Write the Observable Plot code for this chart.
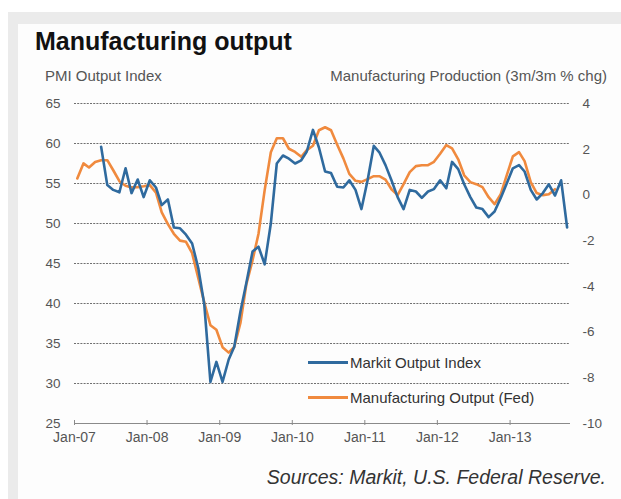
<!DOCTYPE html>
<html><head><meta charset="utf-8">
<script src="https://cdn.jsdelivr.net/npm/d3@7"></script>
<script src="https://cdn.jsdelivr.net/npm/@observablehq/plot@0.6"></script>
<style>
html,body{margin:0;padding:0;background:#fff;width:621px;height:499px;overflow:hidden;font-family:"Liberation Sans",Arial,sans-serif;}
#outer{position:absolute;left:8px;top:12px;width:640px;height:500px;background:#ebebeb;}
#inner{position:absolute;left:18px;top:24px;width:620px;height:480px;background:#fdfdfd;}
#chart{position:absolute;left:0;top:0;}
.t{position:absolute;white-space:nowrap;}
.sw{position:absolute;height:3px;width:40px;}
</style></head><body>
<div id="outer"></div><div id="inner"></div>
<div id="chart"></div>
<div class="t" style="left:35px;top:27px;font-size:25px;font-weight:bold;color:#111;">Manufacturing output</div>
<div class="t" id="ylabL" style="left:45px;top:67px;font-size:15px;color:#555;"></div>
<div class="t" id="ylabR" style="right:14px;top:67px;font-size:15px;color:#555;"></div>
<div class="sw" id="sw0" style="left:308px;top:361px;"></div>
<div class="t" id="lg0" style="left:350px;top:354px;font-size:15px;color:#333;"></div>
<div class="sw" id="sw1" style="left:308px;top:396px;"></div>
<div class="t" id="lg1" style="left:350px;top:389px;font-size:15px;color:#333;"></div>
<div class="t" style="right:15px;top:466px;font-size:19.5px;font-style:italic;color:#333;">Sources: Markit, U.S. Federal Reserve.</div>
<script>
// ---- data ----
const seriesNames = ["Markit Output Index", "Manufacturing Output (Fed)"];
const seriesColors = ["#2f6a9e", "#f08a3e"];
const leftTitle = "PMI Output Index";
const rightTitle = "Manufacturing Production (3m/3m % chg)";
const xTickLabels = ["Jan-07","Jan-08","Jan-09","Jan-10","Jan-11","Jan-12","Jan-13"];
const leftTicks = [25,30,35,40,45,50,55,60,65];
const rightTicks = [4,2,0,-2,-4,-6,-8,-10];

const markitStart = "2007-05";
const markit = [59.6,54.8,54.2,53.9,56.9,53.8,55.5,53.3,55.4,54.5,52.3,53.0,49.5,49.4,48.6,47.5,44.4,39.9,30.2,32.7,
  30.2,33.0,34.6,39.0,42.6,46.5,47.1,44.9,50.0,57.5,58.5,58.1,57.5,57.9,59.0,61.7,59.5,56.5,56.3,54.6,
  54.5,55.4,54.2,51.8,55.4,59.7,58.9,57.3,55.4,53.3,51.8,54.2,54.0,53.2,54.0,54.3,55.4,54.4,57.7,56.8,
  54.9,53.3,52.0,51.8,50.8,51.5,53.2,55.0,56.9,57.3,56.5,54.2,53.0,53.8,54.9,53.5,55.4,49.5];

const fedStart = "2007-01";
const fed = [0.72,1.38,1.2,1.44,1.52,1.52,1.08,0.6,0.4,0.33,0.34,0.38,0.43,0.1,-0.76,-1.28,-1.7,-2.0,-2.05,-2.55,
  -3.64,-4.7,-5.7,-5.9,-6.66,-6.9,-6.65,-5.6,-3.9,-2.86,-1.7,0.21,1.87,2.48,2.48,2.02,1.88,1.67,1.96,2.15,
  2.83,2.96,2.83,2.2,1.6,0.92,0.62,0.57,0.69,0.82,0.82,0.67,0.25,-0.01,0.47,1.0,1.26,1.3,1.3,1.45,
  1.8,2.18,2.04,1.56,0.86,0.56,0.47,0.34,-0.1,-0.4,0.03,0.86,1.69,1.87,1.48,0.56,0.08,-0.01,0.03,0.25];

const xDomain = ["2007-01-01", "2013-11-01"];

// ---- build ----
const parseM = d3.utcParse("%Y-%m");
const mid = (start, i) => d3.utcDay.offset(d3.utcMonth.offset(parseM(start), i), 14);
const markitData = markit.map((v, i) => ({date: mid(markitStart, i), value: v}));
const fedData = fed.map((v, i) => ({date: mid(fedStart, i), value: v}));

const lMin = d3.min(leftTicks), lMax = d3.max(leftTicks);
const rMin = d3.min(rightTicks), rMax = d3.max(rightTicks);
const toLeft = r => lMin + (r - rMin) * (lMax - lMin) / (rMax - rMin);
const rightPos = rightTicks.map(toLeft);
const rightLabel = new Map(rightPos.map((p, i) => [p, String(rightTicks[i])]));
const xTicks = xTickLabels.map(d3.utcParse("%b-%y"));

document.getElementById("ylabL").textContent = leftTitle;
document.getElementById("ylabR").textContent = rightTitle;
["sw0","sw1"].forEach((id,i)=>document.getElementById(id).style.background = seriesColors[i]);
["lg0","lg1"].forEach((id,i)=>document.getElementById(id).textContent = seriesNames[i]);

const chart = Plot.plot({
  width: 621,
  height: 460,
  marginTop: 103,
  marginBottom: 37,
  marginLeft: 74,
  marginRight: 51,
  style: {background: "transparent", fontFamily: "'Liberation Sans', Arial, sans-serif", fontSize: "13.5px", color: "#555"},
  x: {type: "utc", domain: xDomain.map(d => new Date(d))},
  y: {domain: [lMin, lMax]},
  marks: [
    Plot.gridY(leftTicks.filter(d => d !== lMin), {stroke: "#6f6f6f", strokeOpacity: 1, strokeDasharray: "2,1.2", strokeWidth: 1}),
    Plot.ruleY([lMin], {stroke: "#8a8a8a", strokeWidth: 1.2}),
    Plot.axisY(leftTicks, {anchor: "left", tickSize: 0, tickPadding: 14, label: null}),
    Plot.axisY(rightPos, {anchor: "right", tickSize: 0, tickPadding: 12, label: null, tickFormat: d => rightLabel.get(d)}),
    Plot.axisX(xTicks, {anchor: "bottom", tickSize: 5, dy: -3, text: null, stroke: "#8a8a8a", label: null}),
    Plot.axisX(xTicks, {anchor: "bottom", tickSize: 0, tickPadding: 9, label: null, fontSize: "14px", tickFormat: d3.utcFormat("%b-%y")}),
    Plot.lineY(fedData, {x: "date", y: d => toLeft(d.value), stroke: seriesColors[1], strokeWidth: 2.6, curve: "linear"}),
    Plot.lineY(markitData, {x: "date", y: "value", stroke: seriesColors[0], strokeWidth: 2.6, curve: "linear"})
  ]
});
document.getElementById("chart").appendChild(chart);
</script>
</body></html>
